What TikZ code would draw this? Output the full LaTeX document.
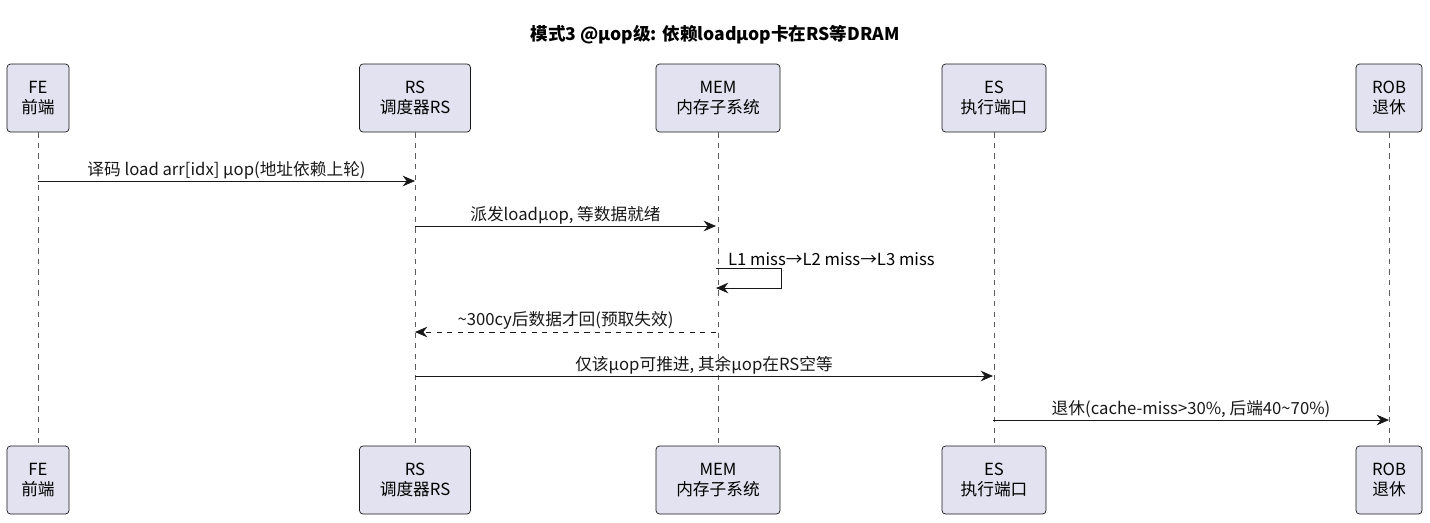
\documentclass[tikz,border=0pt]{standalone}
\usepackage{fontspec}
\setmainfont{Noto Sans CJK SC}
\usetikzlibrary{arrows.meta}
\definecolor{partfill}{HTML}{E2E2F0}
\definecolor{partline}{HTML}{181818}
\tikzstyle{part} = [draw=partline, fill=partfill, rounded corners=2pt, align=center, font=\fontsize{9.5}{11}\selectfont, inner sep=0pt, minimum height=68*0.02cm]
\tikzstyle{msg} = [partline, ->, >={Stealth[length=7pt,width=6pt]}]
\tikzstyle{lbl} = [font=\fontsize{9.5}{11}\selectfont, inner sep=1pt, above]
\begin{document}
\begin{tikzpicture}[x=0.02cm, y=-0.02cm]
\useasboundingbox (0,0) rectangle (1430,522);
\node[font=\bfseries\fontsize{10}{12}\selectfont] (title) at (715,35) {模式3 @μop级: 依赖loadμop卡在RS等DRAM};
% participants, top and bottom
\foreach \id/\x/\w/\txt in {fe/38/62/{FE\\前端}, rs/415/111/{RS\\调度器RS}, mem/718/124/{MEM\\内存子系统}, es/994/104/{ES\\执行端口}, rob/1389/66/{ROB\\退休}}{
  \node[part, minimum width=\w*0.02cm] (\id top) at (\x,98) {\txt};
  \node[part, minimum width=\w*0.02cm] (\id bot) at (\x,480) {\txt};
  \draw[partline!70, dashed, thin] (\id top) -- (\id bot);
}
\coordinate (fe1) at (38,181);  \coordinate (rs1) at (415,181);
\coordinate (rs2) at (415,226); \coordinate (mem2) at (716,226);
\coordinate (mem3) at (716,268); \coordinate (self3) at (781,268);
\coordinate (mem3b) at (716,288);
\coordinate (mem4) at (716,332); \coordinate (rs4) at (415,332);
\coordinate (rs5) at (415,376); \coordinate (es5) at (993,376);
\coordinate (es6) at (993,420); \coordinate (rob6) at (1389,420);

\draw[msg] (fe1) -- node[lbl] {译码 load arr[idx] μop(地址依赖上轮)} (rs1);
\draw[msg] (rs2) -- node[lbl] {派发loadμop, 等数据就绪} (mem2);
\draw[msg] (mem3) -- (self3) |- (mem3b);
\node[lbl, anchor=south west] (l3) at (726,268) {L1 miss→L2 miss→L3 miss};
\draw[msg, dashed] (mem4) -- node[lbl] {\textasciitilde 300cy后数据才回(预取失效)} (rs4);
\draw[msg] (rs5) -- node[lbl] {仅该μop可推进, 其余μop在RS空等} (es5);
\draw[msg] (es6) -- node[lbl] {退休(cache-miss>30\%, 后端40\textasciitilde 70\%)} (rob6);
\end{tikzpicture}
\end{document}
